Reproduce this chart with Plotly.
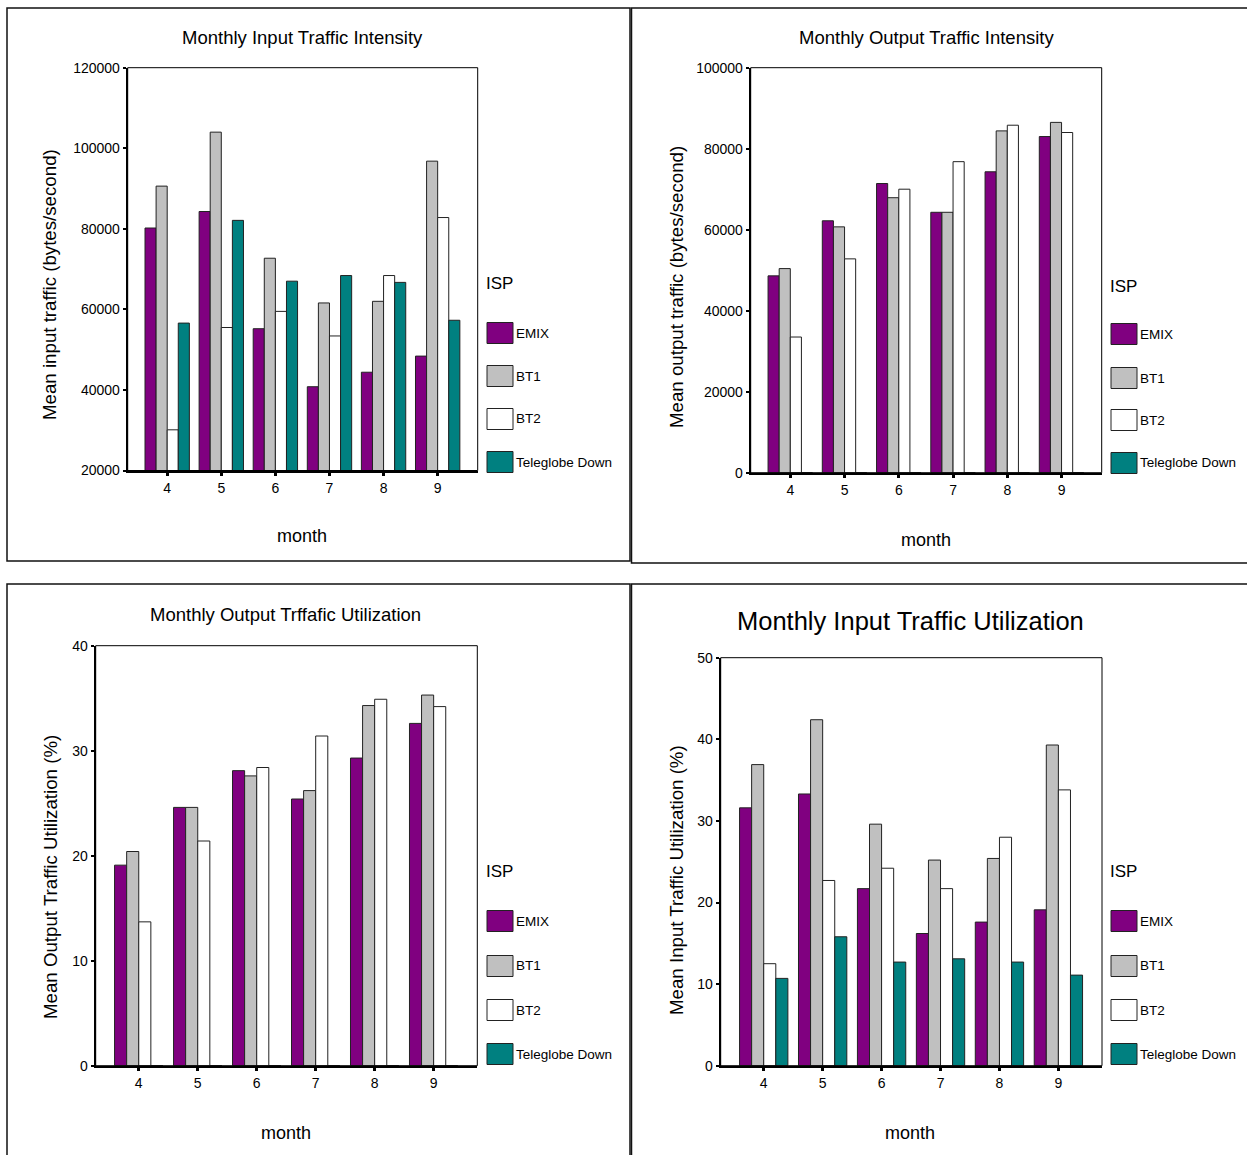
import plotly.graph_objects as go

W, H = 1247, 1155

# ---- data -------------------------------------------------------------
months = [4, 5, 6, 7, 8, 9]
isps = ["EMIX", "BT1", "BT2", "Teleglobe Down"]

in_traffic_emix = [80200, 84300, 55200, 40800, 44400, 48400]
in_traffic_bt1 = [90600, 104000, 72700, 61600, 62000, 96800]
in_traffic_bt2 = [30100, 55500, 59500, 53400, 68400, 82800]
in_traffic_tele = [56600, 82100, 67000, 68400, 66700, 57300]

out_traffic_emix = [48600, 62200, 71400, 64300, 74300, 83000]
out_traffic_bt1 = [50400, 60700, 67900, 64300, 84400, 86500]
out_traffic_bt2 = [33500, 52800, 70000, 76800, 85800, 84000]
out_traffic_tele = [0, 0, 0, 0, 0, 0]

out_util_emix = [19.1, 24.6, 28.1, 25.4, 29.3, 32.6]
out_util_bt1 = [20.4, 24.6, 27.6, 26.2, 34.3, 35.3]
out_util_bt2 = [13.7, 21.4, 28.4, 31.4, 34.9, 34.2]
out_util_tele = [0, 0, 0, 0, 0, 0]

in_util_emix = [31.6, 33.3, 21.7, 16.2, 17.6, 19.1]
in_util_bt1 = [36.9, 42.4, 29.6, 25.2, 25.4, 39.3]
in_util_bt2 = [12.5, 22.7, 24.2, 21.7, 28.0, 33.8]
in_util_tele = [10.7, 15.8, 12.7, 13.1, 12.7, 11.1]

isp_colors = ["#800080", "#C0C0C0", "#FFFFFF", "#008080"]

FONT = "Liberation Sans, Arial, sans-serif"


def fx(x):
    return x / W


def fy(y):
    return 1 - y / H


# panel definitions: (series, y range, y ticks, plot box px, frame px, texts)
panels = [
    dict(
        series=[in_traffic_emix, in_traffic_bt1, in_traffic_bt2, in_traffic_tele],
        yrange=[20000, 120000], ytick=list(range(20000, 120001, 20000)),
        box=(127.7, 67.7, 477.7, 470.5), frame=(7, 8, 630, 561),
        title="Monthly Input Traffic Intensity", title_xy=(302, 37), title_size=18.5,
        ylabel="Mean input traffic (bytes/second)", ylabel_xy=(50, 285),
        xlabel_xy=(302, 536), legend_x=484, legend_y=[283, 333, 376, 419, 462],
    ),
    dict(
        series=[out_traffic_emix, out_traffic_bt1, out_traffic_bt2, out_traffic_tele],
        yrange=[0, 100000], ytick=list(range(0, 100001, 20000)),
        box=(750.7, 67.7, 1101.7, 472.7), frame=(631.5, 8, 1252, 563),
        title="Monthly Output Traffic Intensity", title_xy=(926, 38), title_size=18.5,
        ylabel="Mean output traffic (bytes/second)", ylabel_xy=(676, 287),
        xlabel_xy=(926, 540), legend_x=1108, legend_y=[286, 334, 378, 420, 463],
    ),
    dict(
        series=[out_util_emix, out_util_bt1, out_util_bt2, out_util_tele],
        yrange=[0, 40], ytick=[0, 10, 20, 30, 40],
        box=(95.7, 645.7, 477.3, 1065.7), frame=(7, 584, 630, 1160),
        title="Monthly Output Trffafic Utilization", title_xy=(285, 614), title_size=18.5,
        ylabel="Mean Output Traffic Utilization (%)", ylabel_xy=(50, 877),
        xlabel_xy=(286, 1133), legend_x=484, legend_y=[871, 921, 966, 1010, 1054],
    ),
    dict(
        series=[in_util_emix, in_util_bt1, in_util_bt2, in_util_tele],
        yrange=[0, 50], ytick=[0, 10, 20, 30, 40, 50],
        box=(720.7, 657.7, 1102, 1065.7), frame=(631.5, 584, 1252, 1160),
        title="Monthly Input Traffic Utilization", title_xy=(910, 621), title_size=25.5,
        ylabel="Mean Input Traffic Utilization (%)", ylabel_xy=(676, 880),
        xlabel_xy=(910, 1133), legend_x=1108, legend_y=[871, 921, 966, 1010, 1054],
    ),
]

fig = go.Figure()
shapes = []
annotations = []
layout_axes = {}

for i, p in enumerate(panels, start=1):
    sfx = "" if i == 1 else str(i)
    xa, ya = "x" + sfx, "y" + sfx
    x0, y0, x1, y1 = p["box"]

    for name, vals, col in zip(isps, p["series"], isp_colors):
        fig.add_trace(go.Bar(
            x=months, y=vals, name=name, xaxis=xa, yaxis=ya,
            marker=dict(color=col, line=dict(color="#222222", width=1)),
            showlegend=False,
        ))

    layout_axes["xaxis" + sfx] = dict(
        domain=[fx(x0), fx(x1)], anchor=ya, range=[3.27, 9.74],
        tickmode="array", tickvals=months, ticktext=[str(m) for m in months],
        showline=True, linecolor="black", linewidth=1.5, mirror=False,
        ticks="outside", ticklen=4, tickwidth=3, tickcolor="black",
        showgrid=False, zeroline=False, automargin=False,
        tickfont=dict(family=FONT, size=14, color="black"),
        fixedrange=True,
    )
    layout_axes["yaxis" + sfx] = dict(
        domain=[fy(y1), fy(y0)], anchor=xa, range=p["yrange"],
        tickmode="array", tickvals=p["ytick"], tickformat="d",
        showline=True, linecolor="black", linewidth=2, mirror=False,
        ticks="outside", ticklen=3, tickwidth=2, tickcolor="black",
        showgrid=False, zeroline=False, automargin=False,
        tickfont=dict(family=FONT, size=14, color="black"),
        fixedrange=True,
    )

    # thin box around the plotting area
    shapes.append(dict(type="rect", xref=xa + " domain", yref=ya + " domain",
                       x0=0, x1=1, y0=0, y1=1,
                       line=dict(color="black", width=1), layer="above"))
    # outer frame of the panel
    fx0, fy0, fx1, fy1 = p["frame"]
    shapes.append(dict(type="rect", xref="paper", yref="paper",
                       x0=fx(fx0), x1=fx(fx1), y0=fy(fy1), y1=fy(fy0),
                       line=dict(color="#111111", width=1.5)))

    # titles and axis labels
    tx, ty = p["title_xy"]
    annotations.append(dict(text=p["title"], x=fx(tx), y=fy(ty), xref="paper", yref="paper",
                            showarrow=False, xanchor="center", yanchor="middle",
                            font=dict(family=FONT, size=p["title_size"], color="black")))
    lx, ly = p["ylabel_xy"]
    annotations.append(dict(text=p["ylabel"], x=fx(lx), y=fy(ly), xref="paper", yref="paper",
                            showarrow=False, textangle=-90, xanchor="center", yanchor="middle",
                            font=dict(family=FONT, size=18.7, color="black")))
    mx, my = p["xlabel_xy"]
    annotations.append(dict(text="month", x=fx(mx), y=fy(my), xref="paper", yref="paper",
                            showarrow=False, xanchor="center", yanchor="middle",
                            font=dict(family=FONT, size=18, color="black")))

    # per-panel ISP key
    gx = p["legend_x"]
    gys = p["legend_y"]
    annotations.append(dict(text="ISP", x=fx(gx), y=fy(gys[0]), xref="paper", yref="paper",
                            showarrow=False, xanchor="left", yanchor="middle",
                            font=dict(family=FONT, size=17, color="black")))
    for name, col, cy in zip(isps, isp_colors, gys[1:]):
        shapes.append(dict(type="rect", xref="paper", yref="paper",
                           x0=fx(gx + 3), x1=fx(gx + 29), y0=fy(cy + 10.5), y1=fy(cy - 10.5),
                           fillcolor=col, line=dict(color="#222222", width=1)))
        annotations.append(dict(text=name, x=fx(gx + 30), y=fy(cy), xref="paper", yref="paper",
                                showarrow=False, xanchor="left", yanchor="middle",
                                font=dict(family=FONT, size=13.5, color="black")))

fig.update_layout(
    width=W, height=H,
    margin=dict(l=0, r=0, t=0, b=0, pad=0, autoexpand=False),
    paper_bgcolor="white", plot_bgcolor="white",
    barmode="group", bargap=0.18, bargroupgap=0,
    showlegend=False,
    shapes=shapes, annotations=annotations,
    **layout_axes,
)

fig.write_html("out.html")
